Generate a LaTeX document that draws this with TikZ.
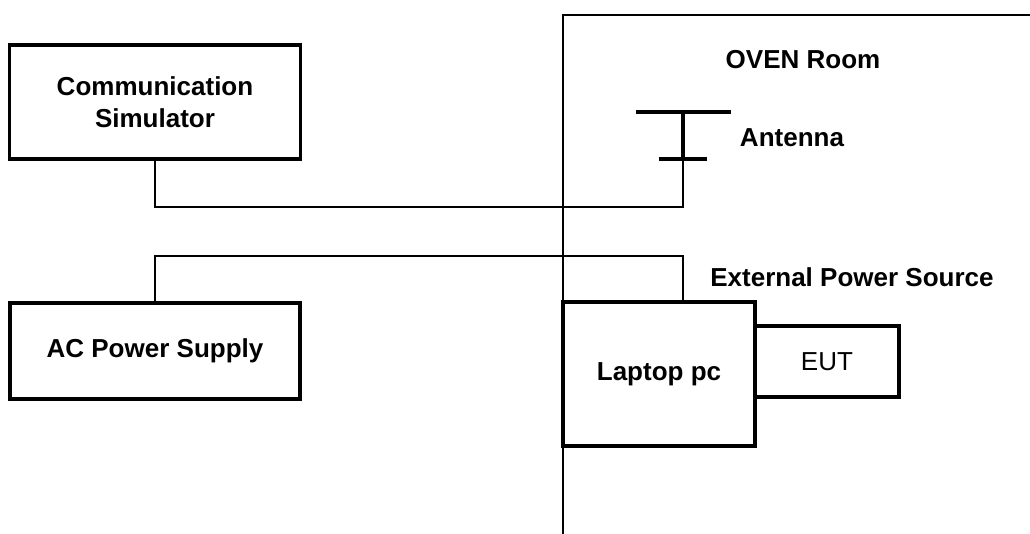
\documentclass[tikz,border=0pt]{standalone}
\usepackage{fontspec}
\setmainfont{Liberation Sans}
\usepackage{tikz}
\usetikzlibrary{positioning}

\begin{document}
\begin{tikzpicture}[
    box/.style={rectangle, draw, line width=1.8pt, inner sep=0pt, align=center, font=\fontsize{14.8}{18}\selectfont\bfseries},
    label/.style={font=\fontsize{14.8}{18}\selectfont\bfseries},
    wire/.style={line width=1.55pt},
    wall/.style={line width=1.6pt}
]
    \useasboundingbox (0,0) rectangle (20.6,10.68);

    \node[box, minimum width=5.81cm, minimum height=2.28cm] (comm) at (3.1,8.64) {Communication\\Simulator};
    \node[box, minimum width=5.8cm, minimum height=1.92cm] (acps) at (3.1,3.66) {AC Power Supply};
    \node[box, minimum width=3.84cm, minimum height=2.88cm] (laptop) at (13.18,3.2) {Laptop pc};
    \node[box, font=\fontsize{14.8}{18}\selectfont, minimum width=2.88cm, minimum height=1.42cm] (eut) at (16.54,3.45) {EUT};

    \node[label] (oven) at (16.06,9.48) {OVEN Room};
    \node[label] (antlabel) at (15.84,7.92) {Antenna};
    \node[label] (extpwr) at (17.04,5.14) {External Power Source};

    % shielded room wall
    \coordinate (walltop) at (11.26,10.38);
    \draw[wall] (11.26,0) -- (walltop) -- (20.6,10.38);

    % antenna
    \coordinate (anttop) at (13.66,8.44);
    \coordinate (antbase) at (13.66,7.5);
    \draw[line width=2.6pt] (12.72,8.44) -- (14.62,8.44);
    \draw[line width=2.8pt] (anttop) -- (antbase);
    \draw[line width=2.6pt] (13.18,7.5) -- (14.14,7.5);

    \coordinate (commjoin) at (13.66,6.54);
    \coordinate (pwrjoin) at (13.66,5.56);
    \draw[wire] (comm.south) |- (commjoin) -- (antbase);
    \draw[wire] (acps.north) |- (pwrjoin) -- (laptop.north -| pwrjoin);
\end{tikzpicture}
\end{document}
